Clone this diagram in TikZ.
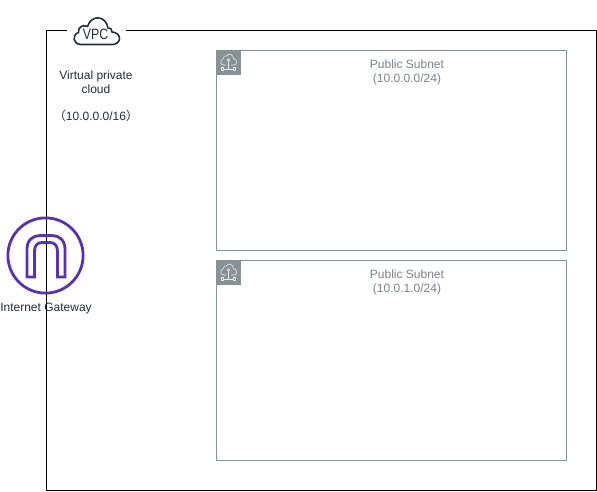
\documentclass[tikz,border=0pt]{standalone}
\usepackage{fontspec}
\setmainfont{Liberation Sans}
\newfontfamily\cjkfont{Noto Sans CJK JP}
\definecolor{awsdark}{HTML}{232F3E}
\definecolor{subgray}{HTML}{879196}
\definecolor{subtext}{HTML}{7A858C}
\definecolor{igwpurple}{HTML}{5A30B5}
\tikzset{
  vpcline/.style={draw=black,line width=1pt},
  subnetbox/.style={draw=subgray,line width=1pt,fill=none},
  labeltext/.style={font=\fontsize{12}{14}\selectfont,text=awsdark,align=center,inner sep=0pt},
  subnettext/.style={font=\fontsize{12}{14}\selectfont,text=subtext,align=center,inner sep=0pt},
  iconline/.style={draw=white!80!subgray,line width=.65pt,line join=round},
  cloudline/.style={draw=awsdark,line width=1.6pt,line join=round},
  igwline/.style={draw=igwpurple,line width=2.8pt,line join=miter}
}
\newcommand{\subneticon}[2]{%
  \begin{scope}[shift={(#1,#2)}]
    \fill[subgray] (0,0) rectangle (25,25);
    \draw[iconline] (10,15) -- (7.5,15) .. controls (4,15) and (3.8,9.5) .. (7,9)
      .. controls (7,6) and (9.5,5.5) .. (10.5,6)
      .. controls (12.5,2.5) and (17,4) .. (17.5,8.5)
      .. controls (21.5,9) and (21.5,15) .. (18,15) -- (15,15);
    \draw[iconline] (12.5,10) circle (1.3);
    \draw[iconline] (12.5,11.3) -- (12.5,19);
    \draw[iconline] (7.5,19) -- (17.5,19);
    \draw[iconline] (5.2,17.8) rectangle (7.5,20.2);
    \draw[iconline] (17.5,17.8) rectangle (19.8,20.2);
  \end{scope}}
\begin{document}
\begin{tikzpicture}[x=1pt,y=-1pt]
\useasboundingbox (0,0) rectangle (597,491);
\fill[white] (0,0) rectangle (597,491);
% VPC frame
\draw[vpcline] (67,30.5) -- (46.5,30.5) -- (46.5,490.5) -- (596.5,490.5) -- (596.5,30.5) -- (126,30.5);
% VPC cloud
\draw[cloudline] (81,44.5) .. controls (73,44.5) and (71.5,35) .. (78.5,32.5)
  .. controls (77.5,27) and (83.5,24) .. (87.5,26.5)
  .. controls (91,14.5) and (106,15) .. (108,28)
  .. controls (110,27) and (112.5,29.5) .. (112,32)
  .. controls (122,32.5) and (122,44.5) .. (112,44.5) -- cycle;
\node[inner sep=0pt,font=\fontsize{15}{15}\selectfont,text=awsdark,xscale=.82] (vpcicon) at (95.5,34.5) {VPC};
\node[labeltext] (vpclabel) at (96,96) {Virtual private\\cloud\\[13pt]{\cjkfont （}10.0.0.0/16{\cjkfont ）}};
% Subnets
\draw[subnetbox] (216.5,50.5) rectangle (566.5,250.5);
\draw[subnetbox] (216.5,260.5) rectangle (566.5,460.5);
\subneticon{216}{50}
\subneticon{216}{260}
\node[subnettext] (subneta) at (407,72.5) {Public Subnet\\(10.0.0.0/24)};
\node[subnettext] (subnetb) at (407,282.5) {Public Subnet\\(10.0.1.0/24)};
% Internet gateway
\draw[igwline,fill=none] (45.5,255.5) circle (37.6);
\draw[igwline] (27,277) -- (27,249) .. controls (27,240) and (33,235.5) .. (40,235.5)
  -- (52,235.5) .. controls (59,235.5) and (65,240) .. (65,249) -- (65,277)
  -- (57.5,277) -- (57.5,251) .. controls (57.5,245) and (54,242.5) .. (50,242.5)
  -- (42,242.5) .. controls (38,242.5) and (34.5,245) .. (34.5,251) -- (34.5,277) -- cycle;
\node[labeltext] (igwlabel) at (46,308.5) {Internet Gateway};
\end{tikzpicture}
\end{document}
